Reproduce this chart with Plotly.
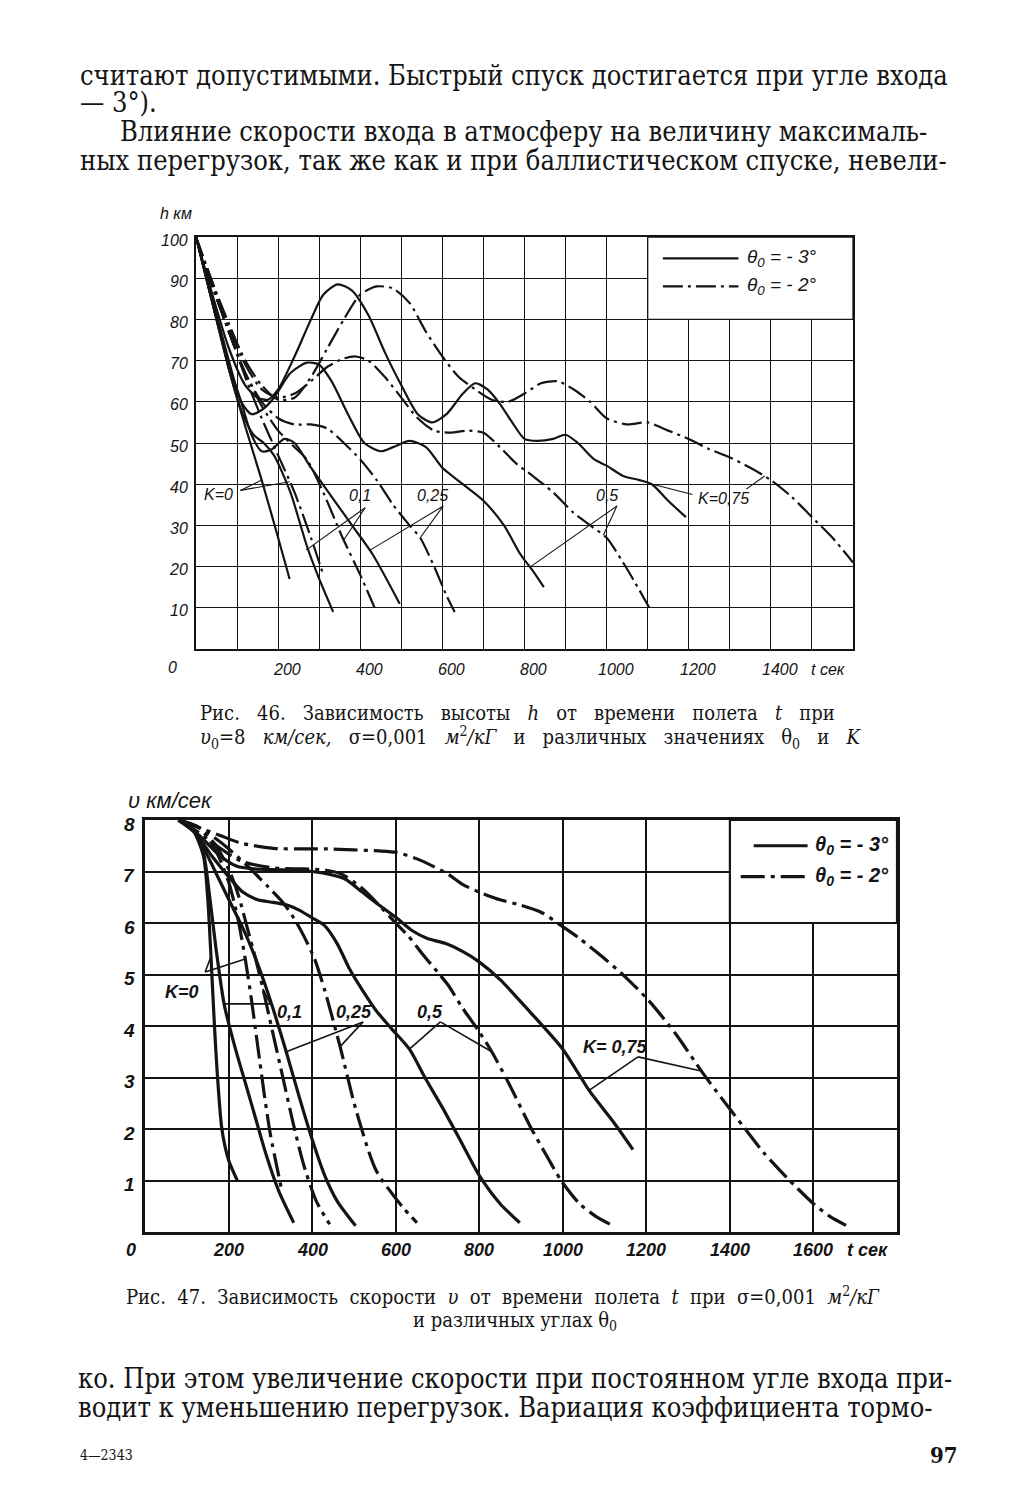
import plotly.graph_objects as go

W, H = 1028, 1500

# ---------------- Рис. 46: h (km) vs t (s) ----------------
# theta0 = -3 deg (solid)
t46_k0_s = [0, 40, 80, 120, 160, 200, 228]
h46_k0_s = [100, 84, 68, 54, 41, 27, 17]
t46_k01_s = [0, 40, 80, 110, 140, 165, 190, 230, 270, 300, 334]
h46_k01_s = [100, 84, 68, 58, 52, 50, 47, 38, 25, 17, 9]
t46_k025_s = [0, 40, 80, 110, 135, 160, 185, 215, 240, 280, 330, 380, 430, 496]
h46_k025_s = [100, 84, 69, 60, 52, 48, 48.5, 51, 50, 44, 37, 30, 23, 11]
t46_k05_s = [0, 40, 80, 110, 135, 160, 190, 230, 270, 300, 330, 370, 410, 450, 480, 520, 560,
             600, 650, 700, 750, 790, 820, 847]
h46_k05_s = [100, 85, 70, 60, 57, 58, 61, 67, 69.5, 69, 65, 57, 50, 48, 49, 50.5, 49,
             44, 40, 36, 30, 23, 19, 15]
t46_k075_s = [0, 40, 80, 120, 150, 175, 200, 240, 280, 310, 345, 380, 420, 460, 500, 540, 575,
              610, 650, 680, 710, 740, 770, 800, 830, 870, 900, 930, 970, 1000, 1040, 1080,
              1110, 1150, 1193]
h46_k075_s = [100, 86, 73, 64, 61, 60.5, 63, 71, 80, 86, 88.5, 87, 81, 72, 64, 57, 55,
              57, 62, 64.5, 63, 59.5, 55, 51, 50.5, 51, 52, 50, 46, 44.5, 42, 41,
              40, 36, 32]
# theta0 = -2 deg (dash-dot)
t46_k0_d = [0, 40, 80, 120, 160, 200, 240, 280, 310]
h46_k0_d = [100, 88, 77, 66, 56, 47, 38, 27, 18]
t46_k01_d = [0, 40, 80, 120, 160, 200, 240, 270, 310, 357, 400, 435]
h46_k01_d = [100, 88, 77, 67, 59, 53, 49, 46, 38, 27, 18, 10]
t46_k025_d = [0, 40, 80, 120, 160, 200, 240, 280, 320, 360, 400, 440, 480, 520, 546, 580, 610, 630]
h46_k025_d = [100, 88, 77, 67, 60, 56, 54.5, 54.5, 53.5, 50, 46, 41, 35, 30, 27, 20, 13, 9]
t46_k05_d = [0, 40, 80, 120, 160, 200, 240, 280, 320, 360, 390, 420, 460, 500, 540, 580, 620,
             660, 700, 740, 780, 820, 870, 920, 960, 1000, 1040, 1070, 1104]
h46_k05_d = [100, 89, 78, 69, 63, 61, 62, 65, 68.5, 70.5, 71, 70, 66, 61, 56, 53, 52.5,
             53, 52.5, 49, 45, 42, 38, 33, 30, 27, 21, 16, 10]
t46_k075_d = [0, 40, 80, 120, 160, 200, 240, 280, 320, 360, 400, 440, 480, 520, 560, 600, 640,
              680, 720, 760, 800, 840, 880, 920, 960, 1000, 1050, 1100, 1150, 1200, 1250, 1300,
              1350, 1400, 1450, 1500, 1550, 1600]
h46_k075_d = [100, 89, 79, 70, 64, 60.5, 61, 66, 73, 80, 86, 88, 87.5, 84, 77, 71, 66,
              63, 60.5, 60, 62, 64.5, 65, 63, 60, 56, 54.5, 55, 53, 51, 48.5, 46.5,
              44, 41, 37, 32, 27, 21]

curves46 = [
    (t46_k0_s, h46_k0_s, "solid"), (t46_k01_s, h46_k01_s, "solid"),
    (t46_k025_s, h46_k025_s, "solid"), (t46_k05_s, h46_k05_s, "solid"),
    (t46_k075_s, h46_k075_s, "solid"),
    (t46_k0_d, h46_k0_d, "dash"), (t46_k01_d, h46_k01_d, "dash"),
    (t46_k025_d, h46_k025_d, "dash"), (t46_k05_d, h46_k05_d, "dash"),
    (t46_k075_d, h46_k075_d, "dash"),
]

# K labels and leader lines (fig 46)
lab46_text = ["K=0", "0,1", "0,25", "0,5", "K=0,75"]
lab46_t = [55, 399, 575, 1002, 1285]
lab46_h = [37.5, 37.2, 37.2, 37.2, 36.5]
lead46_t = [[108, 160], [108, 228], [412, 268], [412, 360], [602, 424], [602, 546],
            [1025, 815], [1025, 992], [1209, 1112], [1340, 1385]]
lead46_h = [[38.5, 41], [38.5, 40.6], [34.3, 24], [34.3, 26.5], [34.7, 24], [34.7, 27],
            [34.7, 20], [34.7, 27.6], [37.5, 40], [38.8, 42]]

x46_ticks = [200, 400, 600, 800, 1000, 1200, 1400]
x46_text = ["200", "400", "600", "800", "1000", "1200", "1400"]
y46_ticks = [10, 20, 30, 40, 50, 60, 70, 80, 90, 100]
y46_text = ["10", "20", "30", "40", "50", "60", "70", "80", "90", "100"]

# legend key (fig 46)
leg46_t = [1137, 1321]
leg46_h = [94.8, 88.0]
leg46_text = ["θ<sub>0</sub> = - 3°", "θ<sub>0</sub> = - 2°"]

# ---------------- Рис. 47: v (km/s) vs t (s) ----------------
t47_k0_s = [80, 115, 140, 150, 157, 165, 172, 184, 200, 221]
v47_k0_s = [8, 7.8, 7.3, 6.5, 5.5, 4.2, 3.2, 2.0, 1.4, 1.0]
t47_k01_s = [80, 115, 140, 155, 170, 190, 215, 240, 265, 290, 320, 356]
v47_k01_s = [8, 7.8, 7.35, 6.5, 5.5, 4.4, 3.6, 2.9, 2.2, 1.5, 0.8, 0.18]
t47_k025_s = [80, 120, 150, 180, 210, 240, 270, 300, 338, 370, 400, 430, 460, 504]
v47_k025_s = [8, 7.75, 7.3, 6.8, 6.3, 5.8, 5.2, 4.5, 3.5, 2.6, 1.8, 1.1, 0.6, 0.12]
t47_k05_s = [80, 120, 160, 200, 234, 270, 307, 340, 369, 400, 430, 460, 490, 520, 553, 590,
             633, 670, 713, 760, 800, 850, 897]
v47_k05_s = [8, 7.75, 7.3, 6.9, 6.6, 6.45, 6.4, 6.35, 6.25, 6.1, 5.95, 5.6, 5.1, 4.7, 4.3, 3.95,
             3.55, 3.0, 2.4, 1.7, 1.1, 0.55, 0.18]
t47_k075_s = [80, 130, 180, 220, 260, 330, 400, 440, 480, 520, 560, 602, 640, 676, 720, 760,
              799, 850, 922, 1000, 1063, 1120, 1168]
v47_k075_s = [8, 7.7, 7.3, 7.1, 7.05, 7.03, 7.0, 6.95, 6.85, 6.6, 6.35, 6.1, 5.85, 5.7, 5.6, 5.45,
              5.25, 4.9, 4.27, 3.55, 2.75, 2.15, 1.6]
t47_k0_d = [80, 130, 170, 200, 222, 240, 255, 270, 285, 300, 326]
v47_k0_d = [8, 7.85, 7.4, 6.8, 6.1, 5.3, 4.5, 3.6, 2.7, 1.9, 0.86]
t47_k01_d = [80, 130, 170, 203, 225, 245, 265, 283, 305, 330, 355, 380, 410, 442]
v47_k01_d = [8, 7.85, 7.5, 7.0, 6.5, 5.9, 5.3, 4.7, 3.9, 3.0, 2.1, 1.3, 0.6, 0.15]
t47_k025_d = [80, 130, 184, 240, 295, 330, 356, 380, 406, 430, 467, 504, 553, 615, 651]
v47_k025_d = [8, 7.85, 7.55, 7.15, 6.7, 6.4, 6.1, 5.75, 5.3, 4.7, 3.6, 2.4, 1.2, 0.5, 0.18]
t47_k05_d = [80, 130, 180, 230, 307, 380, 430, 470, 516, 560, 600, 630, 664, 700, 725, 760, 799,
             830, 870, 922, 960, 996, 1040, 1080, 1118]
v47_k05_d = [8, 7.75, 7.45, 7.2, 7.07, 7.05, 7.03, 6.95, 6.7, 6.35, 6.0, 5.75, 5.4, 5.05, 4.8, 4.35,
             3.9, 3.5, 2.9, 2.05, 1.5, 1.0, 0.55, 0.3, 0.13]
t47_k075_d = [80, 130, 180, 230, 307, 380, 430, 500, 560, 602, 650, 690, 725, 760, 800, 850, 897,
              950, 996, 1040, 1094, 1150, 1205, 1270, 1334, 1380, 1432, 1480, 1537, 1600, 1640, 1678]
v47_k075_d = [8, 7.85, 7.7, 7.55, 7.45, 7.44, 7.44, 7.42, 7.4, 7.37, 7.25, 7.1, 6.95, 6.75, 6.6,
              6.45, 6.35, 6.2, 5.95, 5.7, 5.35, 4.95, 4.5, 3.85, 3.1, 2.6, 2.05, 1.55, 1.05, 0.55,
              0.3, 0.13]

curves47 = [
    (t47_k0_s, v47_k0_s, "solid"), (t47_k01_s, v47_k01_s, "solid"),
    (t47_k025_s, v47_k025_s, "solid"), (t47_k05_s, v47_k05_s, "solid"),
    (t47_k075_s, v47_k075_s, "solid"),
    (t47_k0_d, v47_k0_d, "dash"), (t47_k01_d, v47_k01_d, "dash"),
    (t47_k025_d, v47_k025_d, "dash"), (t47_k05_d, v47_k05_d, "dash"),
    (t47_k075_d, v47_k075_d, "dash"),
]

lab47_text = ["K=0", "0,1", "0,25", "0,5", "K= 0,75"]
lab47_t = [89, 347, 500, 682, 1125]
lab47_v = [4.66, 4.27, 4.27, 4.27, 3.6]
lead47_t = [[144, 158], [144, 240], [300, 190], [300, 282], [522, 338], [522, 467],
            [707, 633], [707, 830], [1180, 1063], [1180, 1334]]
lead47_v = [[5.05, 5.35], [5.05, 5.3], [4.43, 4.43], [4.43, 4.72], [4.08, 3.5], [4.08, 3.6],
            [4.08, 3.55], [4.08, 3.5], [3.4, 2.75], [3.4, 3.12]]

x47_ticks = [200, 400, 600, 800, 1000, 1200, 1400, 1600]
x47_text = ["200", "400", "600", "800", "1000", "1200", "1400", "1600"]
y47_ticks = [1, 2, 3, 4, 5, 6, 7, 8]
y47_text = ["1", "2", "3", "4", "5", "6", "7", "8"]

leg47_t = [[1457, 1586], [1426, 1586]]
leg47_v = [7.5, 6.9]
leg47_text = ["θ<sub>0</sub> = - 3°", "θ<sub>0</sub> = - 2°"]

# ---------------- page text ----------------
text_top = [
    "считают допустимыми. Быстрый спуск достигается при угле входа",
    "— 3°).",
    "Влияние скорости входа в атмосферу на величину максималь-",
    "ных перегрузок, так же как и при баллистическом спуске, невели-",
]
text_bottom = [
    "ко. При этом увеличение скорости при постоянном угле входа при-",
    "водит к уменьшению перегрузок. Вариация коэффициента тормо-",
]
cap46 = [
    "Рис. 46. Зависимость высоты <i>h</i> от времени полета <i>t</i> при",
    "<i>υ</i><sub>0</sub>=8 <i>км/сек,</i> σ=0,001 <i>м</i><sup>2</sup><i>/кГ</i> и различных значениях θ<sub>0</sub> и <i>K</i>",
]
cap47 = [
    "Рис. 47. Зависимость скорости <i>υ</i> от времени полета <i>t</i> при σ=0,001 <i>м</i><sup>2</sup><i>/кГ</i>",
    "и различных углах θ<sub>0</sub>",
]

SERIF = "DejaVu Serif Condensed, DejaVu Serif, Liberation Serif"
SANS = "Liberation Sans"
INK = "#141414"


def px(x):
    return x / W


def py(y):
    return 1 - y / H


def spread(s, n):
    # widen word gaps to imitate justified book setting
    return s.replace(" ", " " + "\u00a0" * n) if n else s


DASH46 = "20px,5px,3px,5px"
DASH47 = "24px,6px,4px,6px"

fig = go.Figure()

for t, h, st in curves46:
    fig.add_trace(go.Scatter(
        x=t, y=h, mode="lines", xaxis="x", yaxis="y",
        line=dict(color=INK, width=2.2, shape="spline", smoothing=0.7,
                  dash=None if st == "solid" else DASH46)))
for xs, ys in zip(lead46_t, lead46_h):
    fig.add_trace(go.Scatter(x=xs, y=ys, mode="lines", xaxis="x", yaxis="y",
                             line=dict(color=INK, width=1.1)))

for t, v, st in curves47:
    fig.add_trace(go.Scatter(
        x=t, y=v, mode="lines", xaxis="x2", yaxis="y2",
        line=dict(color=INK, width=3.2, shape="spline", smoothing=0.7,
                  dash=None if st == "solid" else DASH47)))
for xs, ys in zip(lead47_t, lead47_v):
    fig.add_trace(go.Scatter(x=xs, y=ys, mode="lines", xaxis="x2", yaxis="y2",
                             line=dict(color=INK, width=1.6)))


def axis(rng, dtick, dom, grid_w, line_w, anchor):
    return dict(range=rng, dtick=dtick, tick0=0, domain=dom, anchor=anchor,
                showgrid=True, gridcolor=INK, gridwidth=grid_w,
                showline=True, linecolor=INK, linewidth=line_w, mirror=True,
                zeroline=False, showticklabels=False, ticks="", fixedrange=True)


fig.update_layout(
    width=W, height=H, margin=dict(l=0, r=0, t=0, b=0),
    paper_bgcolor="white", plot_bgcolor="white", showlegend=False,
    xaxis=axis([0, 1600], 100, [px(196), px(853)], 1.3, 2, "y"),
    yaxis=axis([0, 100], 10, [py(649), py(237)], 1.3, 2, "x"),
    xaxis2=axis([0, 1800], 200, [px(145), px(897)], 2.2, 3, "y2"),
    yaxis2=axis([0, 8], 1, [py(1232), py(820)], 2.2, 3, "x2"),
)

# blank legend boxes, then the legend keys on top of them
fig.add_shape(type="rect", xref="x", yref="y", x0=1100, x1=1600, y0=80, y1=100,
              fillcolor="white", line=dict(color=INK, width=1.3), layer="above")
fig.add_shape(type="rect", xref="x2", yref="y2", x0=1400, x1=1800, y0=6, y1=8,
              fillcolor="white", line=dict(color=INK, width=2.2), layer="above")
for i, lh in enumerate(leg46_h):
    fig.add_shape(type="line", xref="x", yref="y", x0=leg46_t[0], x1=leg46_t[1], y0=lh, y1=lh,
                  line=dict(color=INK, width=2.2, dash="solid" if i == 0 else DASH46),
                  layer="above")
for i, (xs, lv) in enumerate(zip(leg47_t, leg47_v)):
    fig.add_shape(type="line", xref="x2", yref="y2", x0=xs[0], x1=xs[1], y0=lv, y1=lv,
                  line=dict(color=INK, width=3.2, dash="solid" if i == 0 else DASH47),
                  layer="above")

ann = []


def note(x, y, s, size, family=SERIF, xref="paper", yref="paper", xanchor="left",
         yanchor="middle", xshift=0, yshift=0):
    ann.append(dict(x=x, y=y, xref=xref, yref=yref, text=s, showarrow=False,
                    xanchor=xanchor, yanchor=yanchor, xshift=xshift, yshift=yshift,
                    font=dict(family=family, size=size, color=INK)))


# body text
for s, x, y in zip(text_top, [78, 78, 118, 78], [75, 103, 132, 160]):
    note(px(x), py(y), s, 27)
for s, y in zip(text_bottom, [1378, 1407]):
    note(px(76), py(y), s, 27)
note(px(78), py(1455), "4—2343", 14)
note(px(960), py(1455), "<b>97</b>", 22, xanchor="right")

# captions
note(px(198), py(713), spread(cap46[0], 2), 20)
note(px(198), py(737), spread(cap46[1], 2), 20)
note(px(124), py(1296), spread(cap47[0], 1), 20)
note(px(515), py(1321), cap47[1], 20, xanchor="center")

# fig 46 lettering
note(px(158), py(213), "<i>h км</i>", 16, family=SANS)
for v, s in zip(y46_ticks, y46_text):
    note(0, v, "<i>" + s + "</i>", 16, family=SANS, xref="x domain", yref="y",
         xanchor="right", xshift=-6, yshift=-3)
for v, s in zip(x46_ticks, x46_text):
    note(v, 0, "<i>" + s + "</i>", 16, family=SANS, xref="x", yref="y",
         xanchor="center", yanchor="top", xshift=9, yshift=-10)
note(0, 0, "<i>0</i>", 16, family=SANS, xref="x", yref="y", xanchor="center",
     yanchor="top", xshift=-24, yshift=-8)
note(1540, 0, "<i>t сек</i>", 16, family=SANS, xref="x", yref="y", xanchor="center",
     yanchor="top", yshift=-10)
for s, t, h in zip(lab46_text, lab46_t, lab46_h):
    note(t, h, "<i>" + s + "</i>", 16, family=SANS, xref="x", yref="y", xanchor="center")
for s, h in zip(leg46_text, leg46_h):
    note(1338, h, "<i>" + s + "</i>", 19, family=SANS, xref="x", yref="y")

# fig 47 lettering
note(px(126), py(800), "<i>υ км/сек</i>", 22, family=SANS)
for v, s in zip(y47_ticks, y47_text):
    note(0, v, "<b><i>" + s + "</i></b>", 19, family=SANS, xref="x2 domain", yref="y2",
         xanchor="right", xshift=-8, yshift=-4)
for v, s in zip(x47_ticks, x47_text):
    note(v, 0, "<b><i>" + s + "</i></b>", 18, family=SANS, xref="x2", yref="y2",
         xanchor="center", yanchor="top", yshift=-6)
note(0, 0, "<b><i>0</i></b>", 18, family=SANS, xref="x2", yref="y2", xanchor="center",
     yanchor="top", xshift=-14, yshift=-6)
note(1730, 0, "<b><i>t сек</i></b>", 18, family=SANS, xref="x2", yref="y2",
     xanchor="center", yanchor="top", yshift=-6)
for s, t, v in zip(lab47_text, lab47_t, lab47_v):
    note(t, v, "<b><i>" + s + "</i></b>", 18, family=SANS, xref="x2", yref="y2",
         xanchor="center")
for s, v in zip(leg47_text, leg47_v):
    note(1598, v, "<b><i>" + s + "</i></b>", 20, family=SANS, xref="x2", yref="y2")

fig.update_layout(annotations=ann)
fig.write_html("out.html", config={"displayModeBar": False},
               post_script="document.body.style.margin='0';")
